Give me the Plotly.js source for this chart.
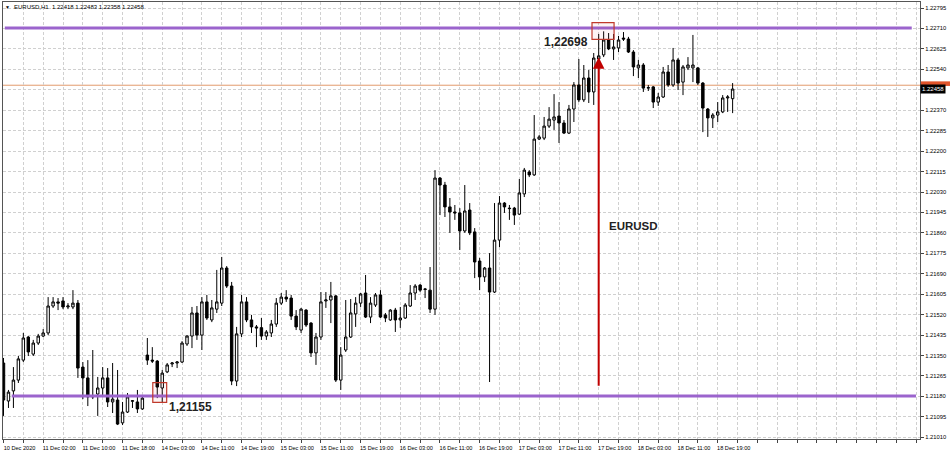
<!DOCTYPE html>
<html>
<head>
<meta charset="utf-8">
<script src="https://cdn.plot.ly/plotly-3.0.1.min.js"></script>
<style>html,body{margin:0;padding:0;background:#fff;}#chart{width:950px;height:454px;}</style>
</head>
<body>
<div id="chart"></div>
<script>
// EURUSD H1 candles, 10 Dec 2020 18:00 .. 18 Dec 2020
const open = [1.21319,1.21161,1.21203,1.21248,1.21331,1.21427,1.21356,1.21402,1.21431,1.21444,
1.21556,1.21573,1.21577,1.21552,1.21552,1.21568,1.21302,1.21257,1.21178,1.21190,
1.21215,1.21257,1.21157,1.21165,1.21070,1.21115,1.21160,1.21157,1.21128,1.21352,
1.21331,1.21327,1.21215,1.21282,1.21315,1.21319,1.21323,1.21398,1.21431,1.21527,
1.21435,1.21573,1.21498,1.21543,1.21568,1.21714,1.21639,1.21244,1.21440,1.21573,
1.21498,1.21469,1.21466,1.21431,1.21444,1.21481,1.21568,1.21593,1.21589,1.21514,
1.21456,1.21539,1.21485,1.21361,1.21427,1.21577,1.21581,1.21598,1.21248,1.21373,
1.21427,1.21523,1.21568,1.21610,1.21510,1.21560,1.21602,1.21519,1.21498,1.21539,
1.21498,1.21506,1.21556,1.21610,1.21643,1.21627,1.21622,1.21543,1.22088,1.22059,
1.21968,1.21947,1.21943,1.21868,1.21955,1.21864,1.21743,1.21677,1.21714,1.21614,
1.21830,1.21984,1.21963,1.21963,1.21938,1.22022,1.22113,1.22101,1.22250,1.22254,
1.22304,1.22329,1.22346,1.22317,1.22275,1.22375,1.22475,1.22413,1.22504,1.22446,
1.22583,1.22600,1.22662,1.22625,1.22629,1.22670,1.22666,1.22612,1.22546,1.22558,
1.22462,1.22467,1.22404,1.22425,1.22529,1.22475,1.22579,1.22487,1.22546,1.22546,
1.22546,1.22483,1.22375,1.22338,1.22350,1.22363,1.22421,1.22418];
const high = [1.21340,1.21207,1.21302,1.21348,1.21444,1.21431,1.21415,1.21440,1.21460,1.21593,
1.21593,1.21589,1.21593,1.21568,1.21622,1.21581,1.21323,1.21331,1.21373,1.21261,
1.21302,1.21298,1.21319,1.21290,1.21157,1.21194,1.21165,1.21207,1.21178,1.21423,
1.21385,1.21331,1.21290,1.21319,1.21323,1.21327,1.21410,1.21435,1.21552,1.21556,
1.21593,1.21602,1.21581,1.21706,1.21760,1.21722,1.21656,1.21469,1.21602,1.21593,
1.21519,1.21477,1.21506,1.21456,1.21498,1.21589,1.21610,1.21622,1.21602,1.21539,
1.21548,1.21543,1.21489,1.21444,1.21614,1.21614,1.21656,1.21602,1.21385,1.21581,
1.21585,1.21593,1.21610,1.21685,1.21593,1.21610,1.21622,1.21527,1.21543,1.21548,
1.21552,1.21568,1.21643,1.21647,1.21647,1.21631,1.21718,1.22121,1.22092,1.22072,
1.22005,1.21976,1.21963,1.22059,1.21984,1.21880,1.21756,1.21718,1.21776,1.21984,
1.22013,1.21988,1.21976,1.21968,1.22084,1.22130,1.22121,1.22350,1.22267,1.22342,
1.22383,1.22437,1.22404,1.22329,1.22392,1.22487,1.22583,1.22558,1.22537,1.22608,
1.22687,1.22698,1.22691,1.22687,1.22679,1.22695,1.22675,1.22620,1.22579,1.22566,
1.22475,1.22471,1.22442,1.22550,1.22558,1.22629,1.22587,1.22558,1.22591,1.22683,
1.22550,1.22487,1.22379,1.22358,1.22404,1.22433,1.22433,1.22483];
const low = [1.21099,1.21132,1.21132,1.21236,1.21323,1.21348,1.21348,1.21394,1.21427,1.21435,
1.21548,1.21539,1.21543,1.21543,1.21543,1.21257,1.21169,1.21140,1.21169,1.21099,
1.21186,1.21136,1.21111,1.21061,1.21061,1.21111,1.21132,1.21111,1.21124,1.21311,
1.21319,1.21173,1.21155,1.21277,1.21302,1.21298,1.21319,1.21390,1.21381,1.21415,
1.21373,1.21498,1.21489,1.21527,1.21556,1.21631,1.21227,1.21223,1.21427,1.21489,
1.21444,1.21385,1.21415,1.21415,1.21427,1.21469,1.21560,1.21573,1.21498,1.21456,
1.21444,1.21469,1.21344,1.21311,1.21415,1.21548,1.21485,1.21240,1.21207,1.21365,
1.21423,1.21469,1.21552,1.21506,1.21485,1.21552,1.21506,1.21489,1.21494,1.21448,
1.21465,1.21502,1.21552,1.21581,1.21614,1.21589,1.21527,1.21519,1.21934,1.21926,
1.21860,1.21914,1.21789,1.21860,1.21851,1.21672,1.21622,1.21656,1.21240,1.21610,
1.21801,1.21943,1.21914,1.21893,1.21934,1.22009,1.22092,1.22097,1.22246,1.22246,
1.22296,1.22288,1.22234,1.22271,1.22271,1.22321,1.22404,1.22404,1.22400,1.22392,
1.22487,1.22591,1.22620,1.22579,1.22612,1.22658,1.22608,1.22512,1.22504,1.22446,
1.22450,1.22379,1.22388,1.22421,1.22467,1.22467,1.22454,1.22433,1.22537,1.22487,
1.22475,1.22279,1.22259,1.22296,1.22321,1.22358,1.22363,1.22358];
const close = [1.21165,1.21198,1.21248,1.21336,1.21423,1.21365,1.21402,1.21431,1.21444,1.21556,
1.21573,1.21568,1.21552,1.21556,1.21568,1.21298,1.21257,1.21178,1.21182,1.21215,
1.21257,1.21157,1.21169,1.21065,1.21115,1.21178,1.21162,1.21128,1.21173,1.21331,
1.21327,1.21219,1.21277,1.21311,1.21319,1.21323,1.21402,1.21431,1.21527,1.21435,
1.21573,1.21506,1.21548,1.21573,1.21714,1.21639,1.21244,1.21440,1.21573,1.21498,
1.21469,1.21465,1.21431,1.21448,1.21481,1.21568,1.21593,1.21585,1.21514,1.21469,
1.21543,1.21477,1.21361,1.21427,1.21573,1.21581,1.21598,1.21248,1.21352,1.21427,
1.21527,1.21568,1.21606,1.21510,1.21568,1.21602,1.21510,1.21506,1.21539,1.21498,
1.21506,1.21560,1.21610,1.21639,1.21622,1.21625,1.21543,1.22088,1.22059,1.21968,
1.21947,1.21943,1.21868,1.21951,1.21860,1.21739,1.21677,1.21714,1.21614,1.21830,
1.21984,1.21968,1.21961,1.21934,1.22026,1.22121,1.22101,1.22250,1.22259,1.22304,
1.22333,1.22342,1.22317,1.22275,1.22375,1.22475,1.22413,1.22504,1.22446,1.22587,
1.22596,1.22662,1.22625,1.22633,1.22662,1.22666,1.22612,1.22550,1.22558,1.22462,
1.22464,1.22404,1.22425,1.22529,1.22475,1.22579,1.22483,1.22550,1.22558,1.22558,
1.22483,1.22379,1.22338,1.22350,1.22363,1.22421,1.22425,1.22458];

const timeLabels = ["10 Dec 2020","11 Dec 02:00","11 Dec 10:00","11 Dec 18:00","14 Dec 03:00",
"14 Dec 11:00","14 Dec 19:00","15 Dec 03:00","15 Dec 11:00","15 Dec 19:00","16 Dec 03:00",
"16 Dec 11:00","16 Dec 19:00","17 Dec 03:00","17 Dec 11:00","17 Dec 19:00","18 Dec 03:00",
"18 Dec 11:00","18 Dec 19:00"];
const priceTicks = ["1.21010","1.21095","1.21180","1.21265","1.21350","1.21435","1.21520",
"1.21605","1.21690","1.21775","1.21860","1.21945","1.22030","1.22115","1.22200","1.22285",
"1.22370","1.22455","1.22540","1.22625","1.22710","1.22795"];

const symbol = "EURUSD,H1";
const levels = [1.22712, 1.21182];     // purple horizontal levels
const askPrice = 1.22474;               // orange (ask) line
const peakValue = 1.22698, peakBar = 121;
const troughValue = 1.21155, troughBar = 32;
const arrowBar = 120, arrowTo = 1.22590;
const signal = "EURUSD";

const x = open.map((_, i) => i);
const n = close.length;
const lastPrice = close[n - 1];

const tickvals = [], ticktext = [];
for (let i = 0; i <= 184; i += 4) {
  tickvals.push(i);
  const k = i / 8;
  ticktext.push(i % 8 === 0 && k < timeLabels.length ? timeLabels[k] : '');
}
// the price tick hidden under the current-price label is not drawn (as in the terminal)
const yTickText = priceTicks.map(t => Math.abs(Number(t) - lastPrice) < 0.0003 ? '' : t);

const trace = {
  type: 'candlestick', x: x, open: open, high: high, low: low, close: close,
  increasing: {line: {color: '#000', width: 1}, fillcolor: '#ffffff'},
  decreasing: {line: {color: '#000', width: 1}, fillcolor: '#000000'},
  whiskerwidth: 0, hoverinfo: 'none'
};

const fmt = v => v.toFixed(5);
const fmtC = v => v.toFixed(5).replace('.', ',');
const lab = {family: 'Liberation Sans, Arial, sans-serif', size: 12, color: '#222'};

const layout = {
  width: 950, height: 454,
  margin: {l: 3, r: 30, t: 2, b: 15, pad: 0},
  paper_bgcolor: '#ffffff', plot_bgcolor: '#ffffff',
  showlegend: false,
  font: {family: 'Liberation Sans, Arial, sans-serif', size: 6, color: '#000'},
  xaxis: {
    range: [-0.1, 184.78], tickmode: 'array', tickvals: tickvals, ticktext: ticktext,
    ticks: 'outside', ticklen: 3, tickcolor: '#444', tickwidth: 1,
    showgrid: true, gridcolor: '#d0d0d0', griddash: '3px,2px', gridwidth: 1,
    showline: true, mirror: true, linecolor: '#555', linewidth: 1,
    zeroline: false, rangeslider: {visible: false}, fixedrange: true,
    tickfont: {size: 5.6, color: '#000'}, ticklabelshift: 16
  },
  yaxis: {
    side: 'right', range: [1.21003, 1.2282], tickmode: 'array',
    tickvals: priceTicks.map(Number), ticktext: yTickText,
    ticks: 'outside', ticklen: 3, tickcolor: '#444',
    showgrid: true, gridcolor: '#d0d0d0', griddash: '3px,2px', gridwidth: 1,
    showline: true, mirror: true, linecolor: '#555', linewidth: 1,
    zeroline: false, fixedrange: true, tickfont: {size: 5.8, color: '#000'}
  },
  shapes: [
    {type: 'line', xref: 'paper', yref: 'y', x0: 0.002, x1: 0.991, y0: levels[0], y1: levels[0],
     line: {color: '#9b64cd', width: 3}, layer: 'above'},
    {type: 'line', xref: 'paper', yref: 'y', x0: 0.0095, x1: 0.9956, y0: levels[1], y1: levels[1],
     line: {color: '#9b64cd', width: 3}, layer: 'above'},
    {type: 'line', xref: 'paper', yref: 'y', x0: 0, x1: 1, y0: askPrice, y1: askPrice,
     line: {color: '#e29a6c', width: 1}, layer: 'below'},
    {type: 'rect', xref: 'paper', yref: 'y', x0: 1.001, x1: 1.033,
     y0: askPrice - 0.00003, y1: askPrice + 0.00016,
     line: {width: 0}, fillcolor: '#e0542a', layer: 'above'},
    {type: 'rect', xref: 'x', yref: 'y', x0: peakBar - 2.35, x1: peakBar + 2.1,
     y0: peakValue - 0.00033, y1: peakValue + 0.00036,
     line: {color: '#c0392b', width: 1.2}, fillcolor: 'rgba(220,60,60,0.06)', layer: 'above'},
    {type: 'rect', xref: 'x', yref: 'y', x0: troughBar - 1.9, x1: troughBar + 0.9,
     y0: troughValue, y1: troughValue + 0.00082,
     line: {color: '#c0392b', width: 1.2}, fillcolor: 'rgba(220,60,60,0.06)', layer: 'above'}
  ],
  annotations: [
    {xref: 'paper', yref: 'paper', x: 0.0044, y: 0.9886, xanchor: 'center', yanchor: 'middle',
     text: '▼', showarrow: false, font: {size: 5, color: '#000'}},
    {xref: 'paper', yref: 'paper', x: 0.0095, y: 0.9886, xanchor: 'left', yanchor: 'middle',
     text: symbol + '  ' + [open[n-1], high[n-1], low[n-1], close[n-1]].map(fmt).join(' '),
     showarrow: false, font: {size: 6, color: '#000'}},
    {xref: 'x', yref: 'y', x: arrowBar, y: arrowTo, ax: 0, ay: 330,
     text: '', showarrow: true, arrowcolor: '#c00000',
     arrowwidth: 2, arrowhead: 2, arrowsize: 1.15, standoff: 0},
    {xref: 'x', yref: 'y', x: peakBar - 7.6, y: 1.22654, text: '<b>' + fmtC(peakValue) + '</b>',
     showarrow: false, font: lab, xanchor: 'center', yanchor: 'middle'},
    {xref: 'x', yref: 'y', x: troughBar + 5.7, y: 1.21135, text: '<b>' + fmtC(troughValue) + '</b>',
     showarrow: false, font: lab, xanchor: 'center', yanchor: 'middle'},
    {xref: 'x', yref: 'y', x: 127.1, y: 1.21889, text: '<b>' + signal + '</b>',
     showarrow: false, font: {family: lab.family, size: 11.5, color: '#222'}, xanchor: 'center', yanchor: 'middle'},
    {xref: 'paper', yref: 'y', x: 1, y: lastPrice, xanchor: 'left', yanchor: 'middle',
     text: fmt(lastPrice), showarrow: false, bgcolor: '#000', borderpad: 1,
     font: {size: 6, color: '#fff'}}
  ]
};

Plotly.newPlot('chart', [trace], layout, {displayModeBar: false, staticPlot: true});
</script>
</body>
</html>
